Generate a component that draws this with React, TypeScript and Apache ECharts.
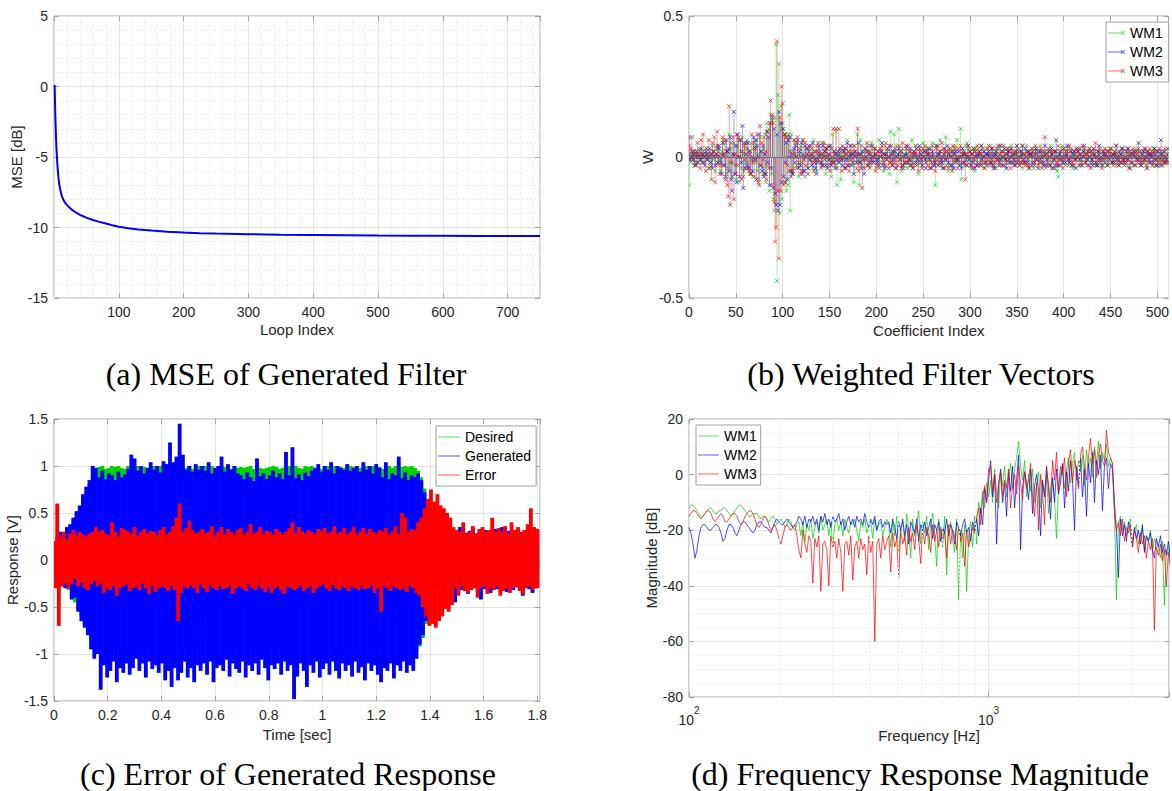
import React, { useEffect, useRef } from "react";
import * as echarts from "echarts";

// ---------- (a) MSE of generated filter ----------
const loopIdx = [1,2,3,4,5,6,7,8,10,12,14,16,18,20,23,26,30,35,40,45,50,60,70,80,90,100,115,130,150,175,200,225,250,300,350,400,450,500,550,600,650,700,750];
const mseDb = [0.1,-2.0,-3.5,-4.6,-5.4,-6.0,-6.5,-6.9,-7.4,-7.75,-8.0,-8.15,-8.3,-8.4,-8.55,-8.68,-8.82,-8.97,-9.1,-9.2,-9.3,-9.47,-9.6,-9.72,-9.84,-9.95,-10.05,-10.14,-10.22,-10.3,-10.36,-10.4,-10.43,-10.48,-10.51,-10.53,-10.55,-10.57,-10.58,-10.59,-10.6,-10.6,-10.61];

// ---------- (b) weighted filter vectors (hundredths), coefficient index 0..511 ----------
const wm1B = [
-10,1,-2,0,1,-1,2,-3,1,0,-2,3,1,-1,0,2,-2,1,3,-1,0,-4,2,1,-3,4,-1,2,-5,0,3,-2,
4,-1,-5,2,6,-3,1,5,-6,2,-4,8,-2,3,-7,1,5,-3,-8,4,0,6,-9,2,-4,7,1,-5,3,-2,6,-4,
2,-6,5,-1,-7,3,4,-2,6,-5,1,-8,7,2,-4,-6,3,8,-9,12,-3,10,-12,15,-6,13,-15,-19,14,40,-44,22,
33,-20,18,-15,12,10,-9,8,-12,7,-10,15,-19,8,-6,2,-4,6,0,-3,5,-7,1,4,-2,6,-5,0,-7,3,1,-4,
2,-1,0,3,-4,6,-1,2,-5,1,-2,3,0,-2,5,-3,1,2,-6,3,-1,0,4,-2,-7,8,-1,2,-3,9,-10,1,
-2,1,-8,3,0,-1,2,1,-4,6,-1,2,-3,0,1,-2,-9,4,1,-2,8,-1,-10,6,-3,1,0,2,-1,0,-3,4,
-1,2,-3,5,0,-2,1,3,-4,0,-1,6,-2,0,2,-1,-5,4,1,-3,2,0,-6,9,-1,2,-3,8,0,4,-9,1,
10,-2,1,-5,3,0,-2,1,3,-4,0,-3,2,-1,6,-2,1,-3,4,0,-2,-6,3,1,-1,-3,5,0,2,-2,3,-1,
1,-4,3,0,5,-2,-1,-10,4,1,-3,1,6,-2,0,-4,2,-1,7,-3,1,-5,2,0,3,-4,1,-2,4,-1,6,-2,
0,-3,10,-8,2,1,-3,4,-1,5,0,-2,3,-4,1,-1,2,-5,3,0,-2,3,-2,1,4,-3,0,2,-4,1,-2,3,
1,-2,4,-1,2,0,-3,2,-4,1,3,-1,-2,4,0,-3,2,-1,1,-4,2,3,-1,-2,4,0,-2,1,2,-3,1,-1,
3,0,-2,2,-4,1,1,-2,4,-1,2,-3,0,1,-2,3,-4,1,2,-1,3,0,-2,4,-2,1,-3,1,2,-4,0,2,
-1,-3,4,1,-2,0,2,-4,2,-5,-7,1,-1,3,0,4,-2,1,-3,1,3,-1,-2,2,0,-3,-4,2,1,3,-1,0,
-3,1,3,-1,-3,2,0,2,-2,1,-1,3,0,-2,2,-1,1,2,-3,0,-2,1,-3,2,1,-1,-3,2,0,-1,-3,2,
-2,1,0,3,-2,1,-1,2,-3,0,2,-1,-2,1,3,0,-2,1,-1,2,-3,1,0,2,-2,1,-3,0,2,3,-1,-1,
0,2,-3,1,-1,2,-2,0,-3,1,2,1,-2,0,1,-3,3,-1,-3,2,0,2,-1,1,-2,1,-3,0,2,-1,-2,1];
const wm2B = [
7,-1,0,2,-1,1,-3,0,2,-2,1,0,-1,3,-2,1,0,-3,2,1,-1,0,3,-2,1,-4,2,0,-3,1,4,-2,
3,0,-2,-6,5,1,-3,-7,6,2,3,-5,7,-8,-12,1,16,-6,4,-9,8,0,-7,6,-2,11,-11,5,-4,1,-3,5,
-4,2,-6,0,-5,7,-1,6,-8,4,0,8,-3,2,-5,4,-7,1,-6,9,-2,7,-10,12,-4,14,-11,10,-13,-17,8,-19,
16,-17,12,-9,10,-7,8,-2,5,-8,6,0,7,-5,1,-6,3,-2,4,0,6,-4,2,-3,5,-6,1,-5,4,0,3,-4,
4,-1,1,-3,5,0,-2,-4,-6,2,-1,4,1,-2,-3,4,0,2,-3,3,-4,1,-1,4,-3,0,-2,2,-4,1,-1,2,
-2,3,0,-1,-3,2,-4,3,-1,5,-3,0,1,4,-3,1,-6,2,0,-2,1,5,-2,1,-4,2,-1,-6,3,0,2,-3,
1,-2,4,-1,0,-2,3,1,-1,-2,2,-3,0,2,5,-3,1,-4,1,-1,3,0,4,-2,1,-3,2,-1,2,-4,0,1,
3,-1,2,-4,0,-3,1,-2,4,1,-2,-1,3,-3,0,-4,2,1,-2,3,-1,0,4,-2,1,-3,0,2,-1,-4,2,1,
3,-1,0,-4,2,1,-3,-2,4,0,-3,1,2,-1,-2,-4,1,3,-1,0,4,-2,1,-3,0,-3,2,-4,1,2,-1,-1,
2,-3,0,-4,3,1,-2,1,-3,0,4,-1,2,-3,1,-2,3,-4,0,1,-3,1,2,-3,4,-1,0,2,-2,1,-3,1,
2,0,-2,3,-3,1,-4,1,2,-1,0,-3,4,-1,2,-3,0,3,-1,-4,1,2,-2,0,3,-2,1,-1,-3,2,4,-2,
0,-3,2,1,4,-1,-2,3,0,-2,2,-4,1,1,-3,2,0,-2,3,-1,1,-4,2,-1,2,0,-2,-3,4,1,-1,-3,
2,0,-3,3,1,-4,-1,2,6,-3,0,-3,1,2,-1,-2,3,0,-2,1,4,-1,-2,0,2,-3,1,2,-1,-4,0,2,
3,-1,1,-3,0,2,4,-2,1,-1,2,-3,0,2,-1,-3,3,1,-2,0,-3,2,4,-1,0,-3,2,1,-2,1,0,-3,
2,-1,3,0,-2,1,-2,1,4,-1,0,-3,2,1,-2,3,-1,-2,0,2,-1,3,-4,0,1,-2,2,1,-3,0,2,-1,
5,0,-2,-3,1,2,-1,3,0,-4,2,-1,1,-2,1,0,-2,3,1,-1,-3,2,0,-3,6,1,-1,2,-2,0,-1,3];
const wm3B = [
4,-1,3,7,0,2,-2,1,-3,5,0,2,-4,6,1,8,-2,0,-5,3,1,6,-4,0,-8,5,2,7,-9,1,9,-3,
4,-6,1,-3,7,0,6,-8,2,-10,-14,18,-17,5,-2,7,-15,1,-6,8,-3,7,0,6,-8,2,-7,4,-1,5,-4,3,
-5,1,-6,8,-2,5,-7,3,-1,8,-9,-10,11,-3,5,-1,7,-6,2,-8,9,-4,12,20,-10,15,12,-16,-30,-25,41,-12,
-36,14,-12,25,19,-10,8,-9,7,-3,8,-5,2,-7,0,-5,6,1,5,-4,7,-2,3,-6,0,-5,6,-1,5,-3,1,-6,
3,0,4,-2,1,-5,2,-1,4,-2,5,0,2,-4,1,-3,5,-1,3,0,4,-3,1,-5,3,-2,10,-2,1,10,-4,0,
10,-1,2,-5,4,0,3,-4,1,-3,2,-5,4,-1,2,-2,4,0,2,-4,10,-5,1,-2,4,-11,0,-4,3,-1,5,-3,
2,-4,1,-2,4,0,3,-5,1,-3,2,-4,3,0,4,-2,1,-3,5,-1,3,-4,0,-2,4,-3,1,-2,3,-4,0,-3,
4,-1,2,-3,5,-4,0,-2,3,-2,4,-1,2,-3,1,-4,2,0,4,-3,1,-5,3,-1,2,-4,3,0,4,-2,1,-3,
3,-4,1,-2,4,-3,0,-5,3,-1,4,-2,2,-3,5,0,3,-4,2,-1,2,-4,3,0,2,-5,4,-1,3,-2,0,-4,
3,0,4,-2,1,-2,2,-8,1,-3,4,0,2,-3,1,-4,3,-1,2,-3,4,0,2,-3,1,-2,3,-4,0,-2,3,-1,
4,-3,1,-2,3,-4,0,-2,3,-1,4,-2,1,-3,2,0,4,-3,1,-2,3,-1,2,-4,3,0,2,-3,1,-2,4,-1,
2,-3,0,-2,4,-2,1,-3,2,-3,1,-4,2,0,3,-2,1,-3,4,-1,2,-3,0,-2,3,-4,2,0,7,-3,1,-2,
3,0,2,-4,2,-1,2,-3,0,-2,4,-1,2,-3,0,-4,3,-1,2,0,2,-3,4,-1,3,-2,0,-3,2,-1,3,0,
2,-3,1,-2,4,0,3,-2,1,-3,2,0,3,-4,1,-2,3,0,5,-3,2,-1,3,-2,0,-4,2,-1,3,0,2,-3,
2,0,3,-2,1,-3,2,0,4,-2,1,-3,0,-2,3,-1,2,-3,0,-2,3,-1,2,-4,1,-2,3,0,2,-3,1,-2,
3,-1,2,-3,0,-2,3,-1,2,-4,1,-2,3,0,2,-3,2,-1,2,-3,0,-2,3,-1,2,-3,0,-2,3,-2,1,-2];

// ---------- (c) time response (hundredths of a volt), sample step 0.006 s ----------
const T_STEP = 0.006;
const desiredC = [
0,-12,18,-20,22,-25,28,-26,
30,-32,36,-40,42,-45,50,-52,56,
-60,64,-68,72,-76,80,-85,88,-92,96,
-97,99,-98,100,-99,97,-100,98,-99,100,-97,99,-98,100,-99,98,-100,97,-99,100,-98,99,
-100,98,-97,100,-99,98,-100,99,-98,97,-100,99,-98,100,-97,99,-98,100,-99,98,-97,100,
-99,98,-100,97,-99,100,-98,99,-97,100,-99,98,-100,99,-98,97,-100,99,-98,100,-99,97,
-98,100,-99,98,-97,100,-99,98,-100,99,-97,98,-100,99,-98,100,-99,97,-98,100,-99,98,
-100,99,-97,98,-100,99,-98,100,-99,97,-98,100,-99,98,-100,97,-99,98,-100,99,-97,100,
-98,99,-100,97,-99,98,-100,99,-98,100,-97,99,-98,100,-99,98,-100,97,-99,100,-98,99,
-97,100,-99,98,-100,99,-98,97,-100,99,-98,100,-99,97,-98,100,-99,98,-100,99,-97,98,
-100,99,-98,100,-97,99,-98,100,-99,98,-100,97,-99,100,-98,99,-97,100,-99,98,-100,99,
-98,97,-100,99,-98,100,-99,98,-97,100,-99,98,-100,99,-98,100,-97,99,-98,100,-99,98,
-97,95,-92,88,-83,76,-68,58,-45,
30,-18,8,-3,
2,-1,1,-2,1,-1,2,-1,1,-2,1,-1,2,-1,1,-2,1,-1,2,-1,1,-2,1,-1,2,-1,1,-2,1,-1,2,-1,
1,-2,1,-1,2,-1,1,-2,1,-1,2,-1,1,-2,1,-1,2,-1,1,-2,1,-1,2,-1,1,-2,1,-1,2,-1,1,-2];
const generatedC = [
0,-20,25,-22,30,-28,26,-30,
35,-30,38,-42,45,-40,52,-55,58,
-65,70,-72,78,-80,85,-95,100,-105,98,
-100,88,-138,95,-112,86,-125,92,-118,90,-108,85,-130,94,-115,88,-120,91,-110,97,-122,112,
-115,108,-105,95,-118,100,-110,92,-125,98,-108,104,-116,96,-112,100,-120,93,-110,105,-128,102,
-118,125,-135,104,-115,110,-128,145,-120,112,-108,96,-125,100,-115,94,-130,102,-112,96,-118,100,
-110,95,-122,104,-108,92,-130,98,-115,100,-112,110,-118,94,-106,102,-124,96,-110,100,-116,92,
-120,90,-108,86,-125,93,-112,88,-118,84,-110,108,-122,89,-106,92,-115,86,-128,90,-112,95,
-116,88,-110,92,-122,86,-108,115,-118,90,-112,120,-148,87,-124,91,-110,85,-118,93,-135,89,
-112,95,-120,98,-108,102,-125,94,-116,100,-110,96,-122,104,-108,92,-118,100,-126,98,-110,96,
-118,102,-112,95,-124,98,-108,100,-120,94,-114,104,-128,96,-110,100,-118,92,-112,102,-122,98,
-130,88,-115,104,-118,86,-110,92,-126,90,-112,110,-118,87,-108,93,-120,85,-112,90,-118,88,
-105,92,-90,85,-80,72,-65,55,-48,
38,-35,32,-30,
28,-30,32,-26,30,-34,27,-29,33,-31,25,-45,30,-28,35,-32,26,-30,29,-36,31,-27,34,-30,28,-33,30,-42,27,-31,32,-28,
30,-35,26,-29,33,-31,28,-30,35,-27,29,-34,31,-28,27,-32,30,-29,33,-30,26,-38,30,-28,32,-31,29,-35,27,-30,31,-29];
const errorC = [
20,-30,60,-70,25,-28,30,-25,
22,-30,28,-25,32,-20,26,-28,30,-24,27,-30,25,-32,28,-26,30,-22,35,
-28,30,-25,32,-35,28,-30,26,-32,40,-27,30,-38,25,-30,34,-28,32,-26,30,-33,28,
-30,35,-28,26,-32,30,-25,33,-30,28,-36,31,-27,30,-34,26,-30,32,-28,35,-30,27,
-33,30,-28,36,-32,45,-65,60,-35,30,-28,34,-30,42,-27,32,-30,28,-35,30,-26,33,
-30,28,-34,30,-27,36,-30,26,-32,30,-28,35,-31,27,-30,33,-28,30,-36,27,-30,32,
-28,34,-30,27,-33,30,-26,38,-30,28,-32,30,-27,35,-30,28,-34,31,-28,30,-35,27,
-30,33,-28,30,-32,27,-36,30,-28,34,-30,40,-32,28,-30,35,-27,30,-33,28,-30,32,
-28,30,-35,27,-30,33,-28,31,-26,34,-30,28,-33,30,-27,36,-30,28,-32,30,-28,34,
-30,27,-33,30,-28,35,-30,27,-32,30,-28,34,-31,28,-30,33,-27,30,-35,28,-30,32,
-55,30,-28,34,-30,27,-33,30,-28,36,-30,28,-32,50,-30,45,-34,30,-28,33,-30,32,
-35,40,-38,45,-50,55,-60,65,-70,
75,-68,62,-72,70,-65,58,-60,55,-52,50,-55,45,-48,
35,-30,32,-38,30,-28,40,-33,28,-35,30,-32,36,-30,28,-40,33,-30,35,-28,30,-36,32,-30,45,-32,30,
-28,34,-38,30,-33,36,-30,28,-35,40,-30,32,-28,35,-33,30,-36,32,-30,38,-28,55,-32,35,-30,33,-30];

// ---------- (d) frequency response magnitude (dB), 150 log-spaced points per decade from 100 Hz ----------
const F_START = 100;
const F_PER_DECADE = 150;
const wm1D = [
-12,-11,-11,-12,-13,-14,-15,-15,-14,-13,
-12,-12,-13,-14,-14,-13,-13,-12,-12,-13,
-14,-15,-14,-13,-12,-11,-11,-12,-13,-14,
-15,-15,-14,-14,-14,-15,-16,-15,-15,-16,
-17,-16,-15,-16,-18,-17,-16,-17,-19,-18,
-16,-17,-19,-20,-18,-17,
-22,-17,-24,-18,-20,-16,-23,-19,-17,-21,-15,-20,-18,-16,-22,-17,-25,-18,-16,-20,-17,-22,
-16,-19,-21,-17,-18,-16,-20,-24,-17,-19,-16,-21,-18,-17,-23,-16,-20,-18,-17,-22,-19,-16,
-18,-26,-17,-22,-15,-28,-19,-17,-24,-14,-20,-30,-16,-22,-18,-13,-25,-17,-21,-15,-27,-18,
-14,-22,-33,-16,-20,-26,-15,-36,-19,-17,-24,-28,-16,-45,-20,-30,-18,-42,-22,-17,-26,
-15,-25,-10,-14,-6,-12,-3,-8,
-2,-10,2,-6,-12,1,-4,3,-8,-1,4,-5,2,6,12,3,-2,5,-8,0,-6,2,-10,-4,1,-12,-3,-7,0,-14,-5,
-2,-9,-23,-4,0,3,-5,2,6,-3,4,8,-2,5,1,7,-4,9,3,6,-1,10,4,12,2,8,5,11,3,6,4,
-12,-45,-18,-15,-20,-17,-22,-19,-16,-24,-20,-18,-25,-21,-19,-27,-22,-24,-20,-28,-23,-25,-26,-30,-24,-47,-27,-29,-25,-32,-28,-30,-27];
const wm2D = [
-19,-21,-25,-30,-27,-22,-19,-18,-18,-19,-20,-20,-19,-18,-18,-19,-21,-24,-23,-20,-18,-18,-19,-21,-22,-20,-18,-17,
-17,-18,-19,-20,-21,-20,-18,-17,-17,-18,-19,-19,-20,-21,-19,-17,-16,-17,-18,-18,-17,-16,-17,-18,-19,-18,-17,-15,
-16,-18,-15,-19,-16,-17,-15,-18,-16,-20,-15,-17,-14,-18,-16,-19,-15,-17,-16,-14,-18,-16,
-20,-17,-15,-18,-16,-19,-15,-17,-16,-18,-14,-17,-19,-16,-18,-15,-20,-17,-16,-19,-17,-18,
-17,-21,-16,-19,-23,-17,-20,-16,-22,-18,-25,-17,-19,-21,-16,-24,-18,-20,-17,-22,-19,-16,
-23,-18,-20,-17,-24,-19,-21,-16,-22,-18,-20,-25,-17,-19,-22,-18,-16,-21,-19,-24,-17,
-20,-16,-22,-12,-18,-5,-10,-2,
5,-8,0,-25,-4,2,-10,-3,-15,1,-6,3,-12,-2,7,-27,-5,1,-3,-9,2,-14,-4,0,-6,-22,-2,-8,3,-5,-16,
-1,-10,2,-7,-3,4,-12,1,-6,5,-2,-20,3,-4,6,-8,2,-15,4,-3,8,-10,5,0,7,-13,3,6,-5,4,2,
-10,-20,-37,-16,-22,-18,-24,-17,-21,-26,-19,-23,-20,-25,-18,-28,-22,-24,-21,-27,-30,-23,-26,-22,-28,-25,-29,-24,-31,-26,-28,-32,-27];
const wm3D = [
-15,-14,-13,-13,-14,-15,-16,-15,-14,-13,-13,-14,-16,-17,-16,-15,-14,-15,-17,-17,-16,-15,-14,-14,-15,-17,-18,-17,
-15,-14,-13,-13,-14,-16,-18,-19,-18,-16,-15,-16,-18,-20,-19,-18,-20,-23,-25,-22,-19,-18,-19,-20,-19,-18,-22,-27,
-30,-20,-25,-28,-22,-24,-39,-23,-26,-22,-42,-25,-24,-27,-40,-22,-26,-24,-30,-23,-28,-42,
-25,-24,-29,-22,-38,-26,-24,-30,-23,-27,-25,-36,-22,-28,-24,-60,-25,-23,-30,-22,-27,-24,
-22,-35,-21,-26,-23,-37,-20,-25,-22,-29,-19,-24,-21,-27,-18,-23,-32,-20,-25,-19,-22,-28,
-18,-24,-20,-26,-19,-23,-21,-30,-18,-25,-20,-22,-27,-19,-24,-21,-33,-20,-26,-22,-19,
-21,-15,-12,-18,-8,-4,-10,2,
3,-6,0,-10,-3,1,-8,-2,-5,2,-12,-4,0,-7,3,-3,-9,1,-5,-2,4,-8,-15,-3,-20,0,-6,-18,2,-4,-10,
5,-2,8,-6,3,0,6,-8,4,9,-3,5,2,-5,7,10,3,-2,6,13,4,9,-1,7,11,5,3,16,8,6,4,
-14,-20,-17,-22,-16,-24,-19,-21,-18,-26,-20,-23,-28,-21,-25,-22,-30,-24,-27,-23,-56,-26,-29,-25,-31,-27,-40,-28,-33,-29,-35,-38,-42];
const minorFreqs = [200, 300, 400, 500, 600, 700, 800, 900, 2000, 3000];

// ---------- styling ----------
const FONT = "'Liberation Sans', Arial, Helvetica, sans-serif";
const SERIF = "'Liberation Serif', 'Times New Roman', serif";
const AXC = "#a3a3a3";
const TXT = "#262626";
const GRIDC = "#e4e4e4";
const MINC = "#ececec";
const GREEN = "#00d000";
const BLUE = "#0000ff";
const RED = "#ff0000";

const LINE_ICON = "path://M0,0H20V1.2H0Z";
const STEM_ICON = "path://M0,4.55H15V5.45H0Z M12.8,3.4L13.4,2.8L17.2,6.6L16.6,7.2Z M12.8,6.6L16.6,2.8L17.2,3.4L13.4,7.2Z";

const tickStyle = { show: true, inside: true, length: 5, lineStyle: { color: AXC } };
const labelStyle = (extra: any = {}) => ({ color: TXT, fontFamily: FONT, fontSize: 14, ...extra });
const nameStyle = { color: TXT, fontFamily: FONT, fontSize: 15 };
const hiddenLine = { show: false, onZero: false };

function mainX(gi: number, cfg: any, label: any, name: string, gap: number, minor?: any) {
  return {
    gridIndex: gi, position: "bottom", ...cfg,
    axisLine: hiddenLine,
    axisTick: tickStyle,
    axisLabel: labelStyle(label),
    splitLine: { show: true, lineStyle: { color: GRIDC, width: 1 } },
    minorTick: { show: false, splitNumber: minor || 5 },
    minorSplitLine: { show: !!minor, lineStyle: { color: MINC, width: 1, type: [2, 2] } },
    name, nameLocation: "middle", nameGap: gap, nameTextStyle: nameStyle,
  };
}
function mainY(gi: number, cfg: any, name: string, gap: number, minor?: number) {
  return {
    gridIndex: gi, position: "left", ...cfg,
    axisLine: hiddenLine,
    axisTick: tickStyle,
    axisLabel: labelStyle({ margin: 6 }),
    splitLine: { show: true, lineStyle: { color: GRIDC, width: 1 } },
    minorTick: { show: false, splitNumber: minor || 5 },
    minorSplitLine: { show: !!minor, lineStyle: { color: MINC, width: 1, type: [2, 2] } },
    name, nameLocation: "middle", nameGap: gap, nameTextStyle: nameStyle,
  };
}
function mirrorX(gi: number, cfg: any) {
  return { gridIndex: gi, position: "top", ...cfg, axisLine: hiddenLine, axisTick: tickStyle,
    axisLabel: { show: false }, splitLine: { show: false } };
}
function mirrorY(gi: number, cfg: any) {
  return { gridIndex: gi, position: "right", ...cfg, axisLine: hiddenLine, axisTick: tickStyle,
    axisLabel: { show: false }, splitLine: { show: false } };
}

function stemRender(color: string) {
  return (params: any, api: any) => {
    const x = api.value(0);
    const y = api.value(1);
    const p0 = api.coord([x, 0]);
    const p1 = api.coord([x, y]);
    const s = 2;
    return {
      type: "group",
      children: [
        { type: "line", shape: { x1: p0[0], y1: p0[1], x2: p1[0], y2: p1[1] }, style: { stroke: color, lineWidth: 1, opacity: 0.35 } },
        { type: "line", shape: { x1: p1[0] - s, y1: p1[1] - s, x2: p1[0] + s, y2: p1[1] + s }, style: { stroke: color, lineWidth: 0.9, opacity: 0.75 } },
        { type: "line", shape: { x1: p1[0] - s, y1: p1[1] + s, x2: p1[0] + s, y2: p1[1] - s }, style: { stroke: color, lineWidth: 0.9, opacity: 0.75 } },
      ],
    };
  };
}

// each item spans one sample step: [t0, v0, t1, v1]; drawn as the filled extent a dense trace sweeps
function bandRender(color: string) {
  return (params: any, api: any) => {
    const a = api.coord([api.value(0), api.value(1)]);
    const b = api.coord([api.value(2), api.value(3)]);
    const x0 = Math.min(a[0], b[0]);
    const y0 = Math.min(a[1], b[1]);
    return {
      type: "rect",
      shape: { x: x0 - 0.3, y: y0, width: Math.abs(b[0] - a[0]) + 0.6, height: Math.max(1, Math.abs(b[1] - a[1])) },
      style: { fill: color },
    };
  };
}

function buildOption() {
  const xa = { type: "value", min: 0, max: 750, interval: 100 };
  const xb = { type: "value", min: 0, max: 512, interval: 50 };
  const xc = { type: "value", min: 0, max: 1.81, interval: 0.2 };
  const xd = { type: "log", logBase: 10, min: 100, max: 4000 };
  const ya = { type: "value", min: -15, max: 5, interval: 5 };
  const yb = { type: "value", min: -0.5, max: 0.5, interval: 0.5 };
  const yc = { type: "value", min: -1.5, max: 1.5, interval: 0.5 };
  const yd = { type: "value", min: -80, max: 20, interval: 20 };

  const stems = (arr: number[]) => arr.map((v, i) => [i, v / 100]);
  const steps = (arr: number[]) => {
    const out: number[][] = [];
    for (let i = 0; i + 1 < arr.length; i++) out.push([i * T_STEP, arr[i] / 100, (i + 1) * T_STEP, arr[i + 1] / 100]);
    return out;
  };
  const freqd = (arr: number[]) => arr.map((v, i) => [F_START * Math.pow(10, i / F_PER_DECADE), v]);

  const legendBase = {
    orient: "vertical", backgroundColor: "#ffffff", borderColor: "#a0a0a0", borderWidth: 1, borderRadius: 0,
    itemHeight: 14, itemGap: 5, selectedMode: false,
    textStyle: { fontFamily: FONT, fontSize: 14, color: "#000" },
    itemStyle: { borderWidth: 0 },
  };

  const capStyle = (text: string) => ({ text, fontFamily: SERIF, fontSize: 32, lineHeight: 30, fill: "#000", align: "center", textAlign: "center", verticalAlign: "middle", textVerticalAlign: "middle" });

  const bandSeries = (name: string, arr: number[], color: string) => ({
    name, type: "custom", xAxisIndex: 2, yAxisIndex: 2, data: steps(arr),
    encode: { x: [0, 2], y: [1, 3] }, renderItem: bandRender(color), itemStyle: { color }, clip: true,
  });

  return {
    animation: false,
    backgroundColor: "#ffffff",
    grid: [
      { left: 54, top: 16, width: 486, height: 282, show: true, borderColor: AXC, borderWidth: 1 },
      { left: 689, top: 16, width: 483, height: 282, show: true, borderColor: AXC, borderWidth: 1 },
      { left: 54, top: 419, width: 486, height: 282, show: true, borderColor: AXC, borderWidth: 1 },
      { left: 689, top: 419, width: 483, height: 278, show: true, borderColor: AXC, borderWidth: 1 },
    ],
    xAxis: [
      mainX(0, xa, { margin: 7, showMinLabel: false, showMaxLabel: false }, "Loop Index", 24, 5),
      mainX(1, xb, { margin: 7, showMaxLabel: false }, "Coefficient Index", 25),
      mainX(2, xc, { margin: 7, showMaxLabel: false }, "Time [sec]", 26),
      mainX(3, xd, {
        margin: 8,
        formatter: (v: number) => {
          const e = Math.log10(v);
          const r = Math.round(e);
          return Math.abs(e - r) < 1e-6 ? `{b|10}{sup|${r}}` : "";
        },
        rich: {
          b: { fontFamily: FONT, fontSize: 14, color: TXT, lineHeight: 22, verticalAlign: "bottom" },
          sup: { fontFamily: FONT, fontSize: 10, color: TXT, lineHeight: 22, verticalAlign: "top" },
        },
      }, "Frequency [Hz]", 31),
      mirrorX(0, xa), mirrorX(1, xb), mirrorX(2, xc), mirrorX(3, xd),
    ],
    yAxis: [
      mainY(0, ya, "MSE [dB]", 28, 5),
      mainY(1, yb, "W", 34),
      mainY(2, yc, "Response [V]", 33),
      mainY(3, yd, "Magnitude [dB]", 30, 4),
      mirrorY(0, ya), mirrorY(1, yb), mirrorY(2, yc), mirrorY(3, yd),
    ],
    legend: [
      { ...legendBase, left: 1106, top: 22, padding: [4, 6, 4, 2], itemWidth: 17,
        data: [
          { name: "WM1", icon: STEM_ICON, itemStyle: { color: GREEN, opacity: 0.6, borderWidth: 0 } },
          { name: "WM2", icon: STEM_ICON, itemStyle: { color: BLUE, opacity: 0.6, borderWidth: 0 } },
          { name: "WM3", icon: STEM_ICON, itemStyle: { color: RED, opacity: 0.6, borderWidth: 0 } },
        ] },
      { ...legendBase, left: 436, top: 426, padding: [4, 5, 4, 2], itemWidth: 22,
        data: [
          { name: "Desired", icon: LINE_ICON, itemStyle: { color: GREEN, opacity: 0.5, borderWidth: 0 } },
          { name: "Generated", icon: LINE_ICON, itemStyle: { color: BLUE, opacity: 0.5, borderWidth: 0 } },
          { name: "Error", icon: LINE_ICON, itemStyle: { color: RED, opacity: 0.5, borderWidth: 0 } },
        ] },
      { ...legendBase, left: 696, top: 425, padding: [4, 4, 4, 2], itemWidth: 21,
        data: [
          { name: "WM1", icon: LINE_ICON, itemStyle: { color: GREEN, opacity: 0.5, borderWidth: 0 } },
          { name: "WM2", icon: LINE_ICON, itemStyle: { color: BLUE, opacity: 0.5, borderWidth: 0 } },
          { name: "WM3", icon: LINE_ICON, itemStyle: { color: RED, opacity: 0.5, borderWidth: 0 } },
        ] },
    ],
    graphic: [
      { type: "text", x: 286, y: 374, style: capStyle("(a) MSE of Generated Filter") },
      { type: "text", x: 921, y: 374, style: capStyle("(b) Weighted Filter Vectors") },
      { type: "text", x: 288, y: 774, style: capStyle("(c) Error of Generated Response") },
      { type: "text", x: 920, y: 774, style: capStyle("(d) Frequency Response Magnitude") },
    ],
    series: [
      { name: "MSE", type: "line", xAxisIndex: 0, yAxisIndex: 0, symbol: "none",
        data: loopIdx.map((x, i) => [x, mseDb[i]]), lineStyle: { color: BLUE, width: 2 }, itemStyle: { color: BLUE } },

      { name: "WM1", type: "custom", xAxisIndex: 1, yAxisIndex: 1, data: stems(wm1B), encode: { x: 0, y: 1 },
        renderItem: stemRender(GREEN), itemStyle: { color: GREEN }, clip: true,
        markLine: { silent: true, symbol: ["none", "none"], label: { show: false },
          lineStyle: { color: "#6f6f6f", width: 1, type: "solid" }, data: [{ yAxis: 0 }] } },
      { name: "WM2", type: "custom", xAxisIndex: 1, yAxisIndex: 1, data: stems(wm2B), encode: { x: 0, y: 1 },
        renderItem: stemRender(BLUE), itemStyle: { color: BLUE }, clip: true },
      { name: "WM3", type: "custom", xAxisIndex: 1, yAxisIndex: 1, data: stems(wm3B), encode: { x: 0, y: 1 },
        renderItem: stemRender(RED), itemStyle: { color: RED }, clip: true },

      bandSeries("Desired", desiredC, GREEN),
      bandSeries("Generated", generatedC, BLUE),
      bandSeries("Error", errorC, RED),

      { name: "minor", type: "line", xAxisIndex: 3, yAxisIndex: 3, data: [], z: 1, silent: true,
        markLine: { silent: true, symbol: ["none", "none"], label: { show: false },
          lineStyle: { color: MINC, width: 1, type: [2, 2] }, data: minorFreqs.map((f) => ({ xAxis: f })) } },
      { name: "WM1", type: "line", xAxisIndex: 3, yAxisIndex: 3, symbol: "none", data: freqd(wm1D),
        lineStyle: { color: GREEN, width: 1, opacity: 0.7 }, itemStyle: { color: GREEN }, clip: true },
      { name: "WM2", type: "line", xAxisIndex: 3, yAxisIndex: 3, symbol: "none", data: freqd(wm2D),
        lineStyle: { color: BLUE, width: 1, opacity: 0.7 }, itemStyle: { color: BLUE }, clip: true },
      { name: "WM3", type: "line", xAxisIndex: 3, yAxisIndex: 3, symbol: "none", data: freqd(wm3D),
        lineStyle: { color: RED, width: 1, opacity: 0.7 }, itemStyle: { color: RED }, clip: true },
    ],
  };
}

export default function App() {
  const ref = useRef<HTMLDivElement>(null);
  useEffect(() => {
    if (!ref.current) return;
    const chart = echarts.init(ref.current, null, { renderer: "svg" });
    chart.setOption(buildOption() as any);
    return () => chart.dispose();
  }, []);
  return (
    <div
      ref={ref}
      style={{ position: "absolute", left: 0, top: 0, width: 1172, height: 791, background: "#ffffff" }}
    />
  );
}
